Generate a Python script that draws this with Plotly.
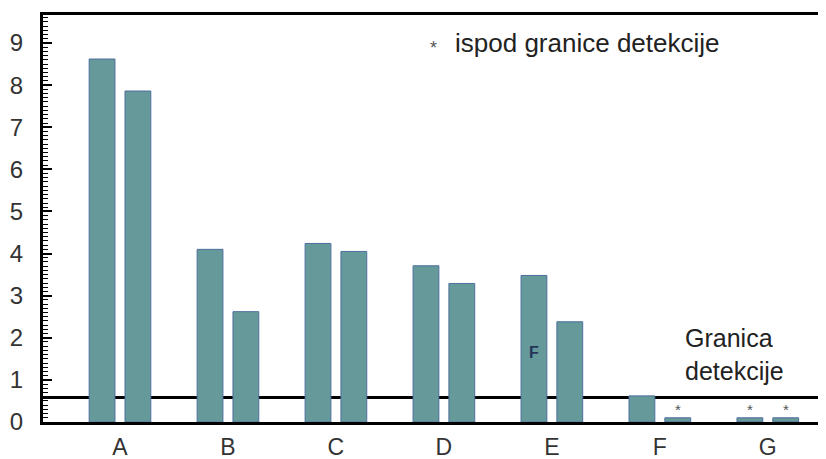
import plotly.graph_objects as go

# ---- data ----
categories = ["A", "B", "C", "D", "E", "F", "G"]
series1 = [8.62, 4.10, 4.24, 3.71, 3.48, 0.62, 0.10]
series2 = [7.86, 2.62, 4.05, 3.29, 2.38, 0.10, 0.10]
detection_limit = 0.58
below_limit = [("F", 2), ("G", 1), ("G", 2)]   # (category, series) below detection limit
asterisk_level = 0.36
f_mark = ("E", 1, 1.64)                         # 'F' label inside a bar
y_ticks = [0, 1, 2, 3, 4, 5, 6, 7, 8, 9]
legend_note = "ispod granice detekcije"
limit_label = "Granica<br>detekcije"

# ---- style ----
BAR_FILL = "#669999"
BAR_EDGE = "#4d6f9f"
FONT = "Liberation Sans, Arial, sans-serif"
bargap = 0.336
bargroupgap = 0.28
offset = (1 - bargap) / 4

fig = go.Figure()
for vals in (series1, series2):
    fig.add_trace(go.Bar(
        x=categories, y=vals,
        marker=dict(color=BAR_FILL, line=dict(color=BAR_EDGE, width=1)),
        showlegend=False, hoverinfo="x+y",
    ))

# detection limit line (under bars)
fig.add_shape(type="line", xref="paper", yref="y", x0=0, x1=1,
              y0=detection_limit, y1=detection_limit,
              line=dict(color="black", width=3), layer="below")

# asterisks for values below detection limit
for cat, s in below_limit:
    xi = categories.index(cat) + (-offset if s == 1 else offset)
    fig.add_annotation(x=xi, y=asterisk_level, xref="x", yref="y", text="*",
                       showarrow=False, yshift=-3,
                       font=dict(family=FONT, size=15, color="#555555"))

# 'F' mark inside bar
cat, s, yv = f_mark
fig.add_annotation(x=categories.index(cat) + (-offset if s == 1 else offset), y=yv,
                   xref="x", yref="y", text="<b>F</b>", showarrow=False,
                   font=dict(family=FONT, size=16, color="#25355a"))

# legend note
fig.add_annotation(x=0.499, y=0.926, xref="paper", yref="paper", text="*",
                   showarrow=False, yshift=9,
                   font=dict(family=FONT, size=18, color="#555555"))
fig.add_annotation(x=0.523, y=0.931, xref="paper", yref="paper", text=legend_note,
                   showarrow=False, xanchor="left", yanchor="middle",
                   font=dict(family=FONT, size=26, color="#222222"))

# detection-limit label
fig.add_annotation(x=0.818, y=0.167, xref="paper", yref="paper", text=limit_label,
                   showarrow=False, xanchor="left", yanchor="middle", align="left",
                   font=dict(family=FONT, size=25, color="#222222"))

# page body has an 8px margin, so the figure is sized/offset to compensate
fig.update_layout(
    width=818, height=451,
    margin=dict(l=35, r=0, t=7, b=37),
    paper_bgcolor="white", plot_bgcolor="white",
    barmode="group", bargap=bargap, bargroupgap=bargroupgap,
    font=dict(family=FONT, size=22, color="#333333"),
    xaxis=dict(
        type="category", range=[-0.713, 6.539], automargin=False,
        showline=True, linecolor="black", linewidth=3, mirror=True,
        ticks="", showgrid=False, zeroline=False,
        tickfont=dict(size=23, color="#333333"), ticklabelstandoff=2,
    ),
    yaxis=dict(
        range=[0, 9.665], tickvals=y_ticks, automargin=False,
        showline=True, linecolor="black", linewidth=3,
        ticks="inside", ticklen=9, tickwidth=2, tickcolor="black",
        minor=dict(dtick=0.1, ticks="inside", ticklen=5, tickwidth=1, tickcolor="black", showgrid=False),
        showgrid=False, zeroline=False,
        tickfont=dict(size=24, color="#333333"), ticklabelstandoff=12,
    ),
)

fig.write_html("out.html")
